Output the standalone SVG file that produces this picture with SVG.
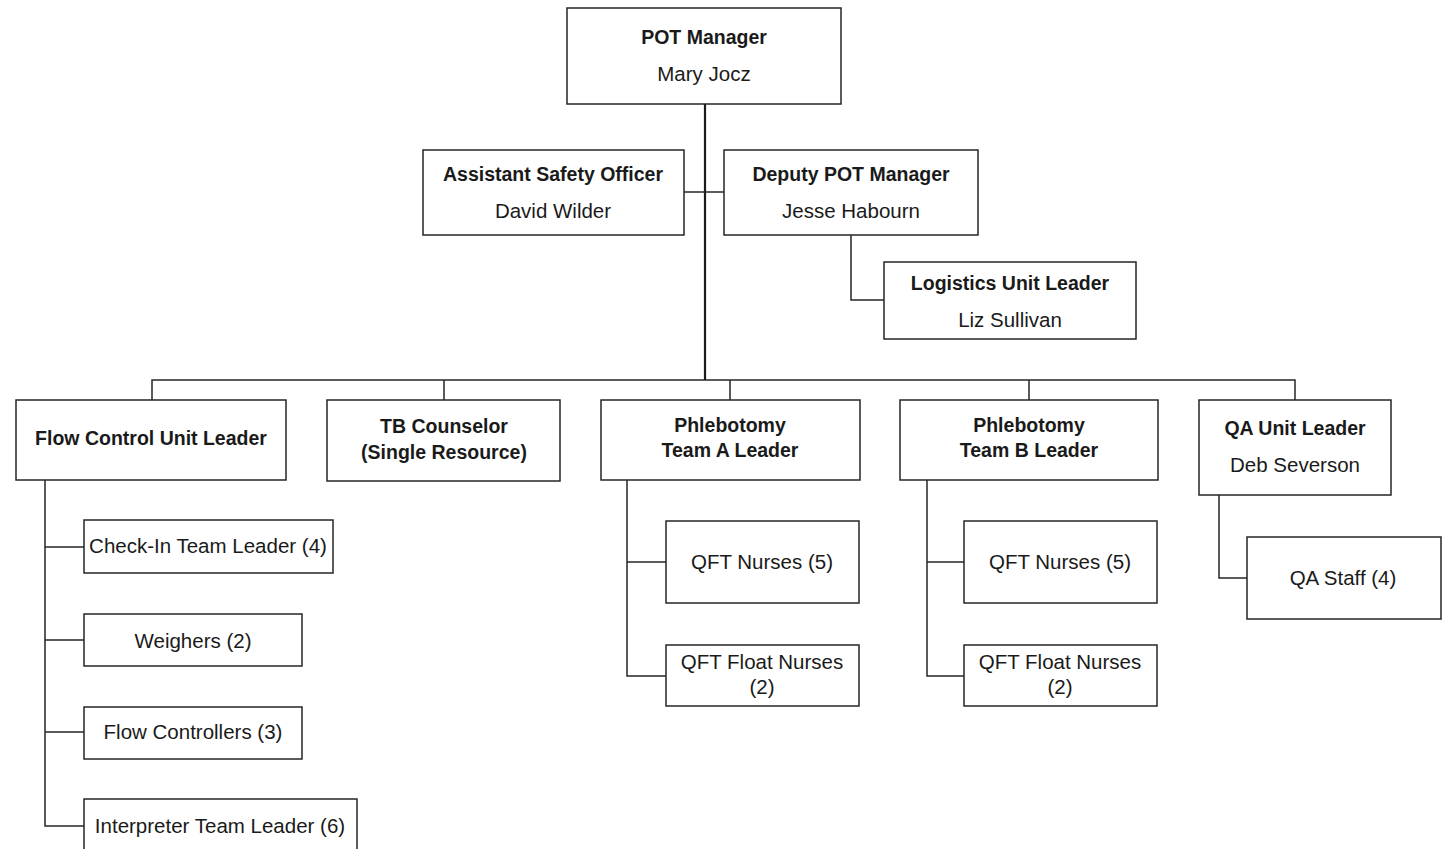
<svg xmlns="http://www.w3.org/2000/svg" width="1450" height="849" viewBox="0 0 1450 849">
<style>
.box{fill:#fff;stroke:#262626;stroke-width:1.5}
.t{font-family:"Liberation Sans",Arial,sans-serif;font-size:20.5px;fill:#1a1a1a;text-anchor:middle;dominant-baseline:central}
.b{font-weight:bold;font-size:19.5px}
.c{fill:none;stroke:#262626;stroke-width:1.5}
.trunk{fill:none;stroke:#1a1a1a;stroke-width:2.2}
</style>
<rect width="1450" height="849" fill="#fff"/>
<g id="connectors">
<path class="trunk" d="M705,104 V380"/>
<path class="c" d="M684,192 H724"/>
<path class="c" d="M851,235 V300 H884"/>
<path class="c" d="M152,400 V380 H1295 V400 M444,380 V400 M730,380 V400 M1029,380 V400"/>
<path class="c" d="M45,480 V826 H84 M45,547 H84 M45,640 H84 M45,732 H84"/>
<path class="c" d="M627,480 V676 H666 M627,562 H666"/>
<path class="c" d="M927,480 V676 H964 M927,562 H964"/>
<path class="c" d="M1219,495 V578 H1247"/>
</g>
<g id="pot-manager"><rect class="box" x="567" y="8" width="274" height="96"/><text class="t b" x="704" y="37">POT Manager</text><text class="t" x="704" y="73">Mary Jocz</text></g>
<g id="assistant-safety"><rect class="box" x="423" y="150" width="261" height="85"/><text class="t b" x="553" y="174">Assistant Safety Officer</text><text class="t" x="553" y="210">David Wilder</text></g>
<g id="deputy-pot"><rect class="box" x="724" y="150" width="254" height="85"/><text class="t b" x="851" y="174">Deputy POT Manager</text><text class="t" x="851" y="210">Jesse Habourn</text></g>
<g id="logistics"><rect class="box" x="884" y="262" width="252" height="77"/><text class="t b" x="1010" y="283">Logistics Unit Leader</text><text class="t" x="1010" y="319">Liz Sullivan</text></g>
<g id="flow-control"><rect class="box" x="16" y="400" width="270" height="80"/><text class="t b" x="151" y="438">Flow Control Unit Leader</text></g>
<g id="tb-counselor"><rect class="box" x="327" y="400" width="233" height="81"/><text class="t b" x="444" y="426">TB Counselor</text><text class="t b" x="444" y="452">(Single Resource)</text></g>
<g id="phleb-a"><rect class="box" x="601" y="400" width="259" height="80"/><text class="t b" x="730" y="425">Phlebotomy</text><text class="t b" x="730" y="450">Team A Leader</text></g>
<g id="phleb-b"><rect class="box" x="900" y="400" width="258" height="80"/><text class="t b" x="1029" y="425">Phlebotomy</text><text class="t b" x="1029" y="450">Team B Leader</text></g>
<g id="qa-unit"><rect class="box" x="1199" y="400" width="192" height="95"/><text class="t b" x="1295" y="428">QA Unit Leader</text><text class="t" x="1295" y="464">Deb Severson</text></g>
<g id="check-in"><rect class="box" x="84" y="520" width="249" height="53"/><text class="t" x="208" y="545">Check-In Team Leader (4)</text></g>
<g id="weighers"><rect class="box" x="84" y="614" width="218" height="52"/><text class="t" x="193" y="640">Weighers (2)</text></g>
<g id="flow-controllers"><rect class="box" x="84" y="707" width="218" height="52"/><text class="t" x="193" y="731">Flow Controllers (3)</text></g>
<g id="interpreter"><rect class="box" x="84" y="799" width="273" height="60"/><text class="t" x="220" y="825">Interpreter Team Leader (6)</text></g>
<g id="qft-nurses-a"><rect class="box" x="666" y="521" width="193" height="82"/><text class="t" x="762" y="561">QFT Nurses (5)</text></g>
<g id="qft-float-a"><rect class="box" x="666" y="645" width="193" height="61"/><text class="t" x="762" y="661">QFT Float Nurses</text><text class="t" x="762" y="686">(2)</text></g>
<g id="qft-nurses-b"><rect class="box" x="964" y="521" width="193" height="82"/><text class="t" x="1060" y="561">QFT Nurses (5)</text></g>
<g id="qft-float-b"><rect class="box" x="964" y="645" width="193" height="61"/><text class="t" x="1060" y="661">QFT Float Nurses</text><text class="t" x="1060" y="686">(2)</text></g>
<g id="qa-staff"><rect class="box" x="1247" y="537" width="194" height="82"/><text class="t" x="1343" y="577">QA Staff (4)</text></g>
</svg>
